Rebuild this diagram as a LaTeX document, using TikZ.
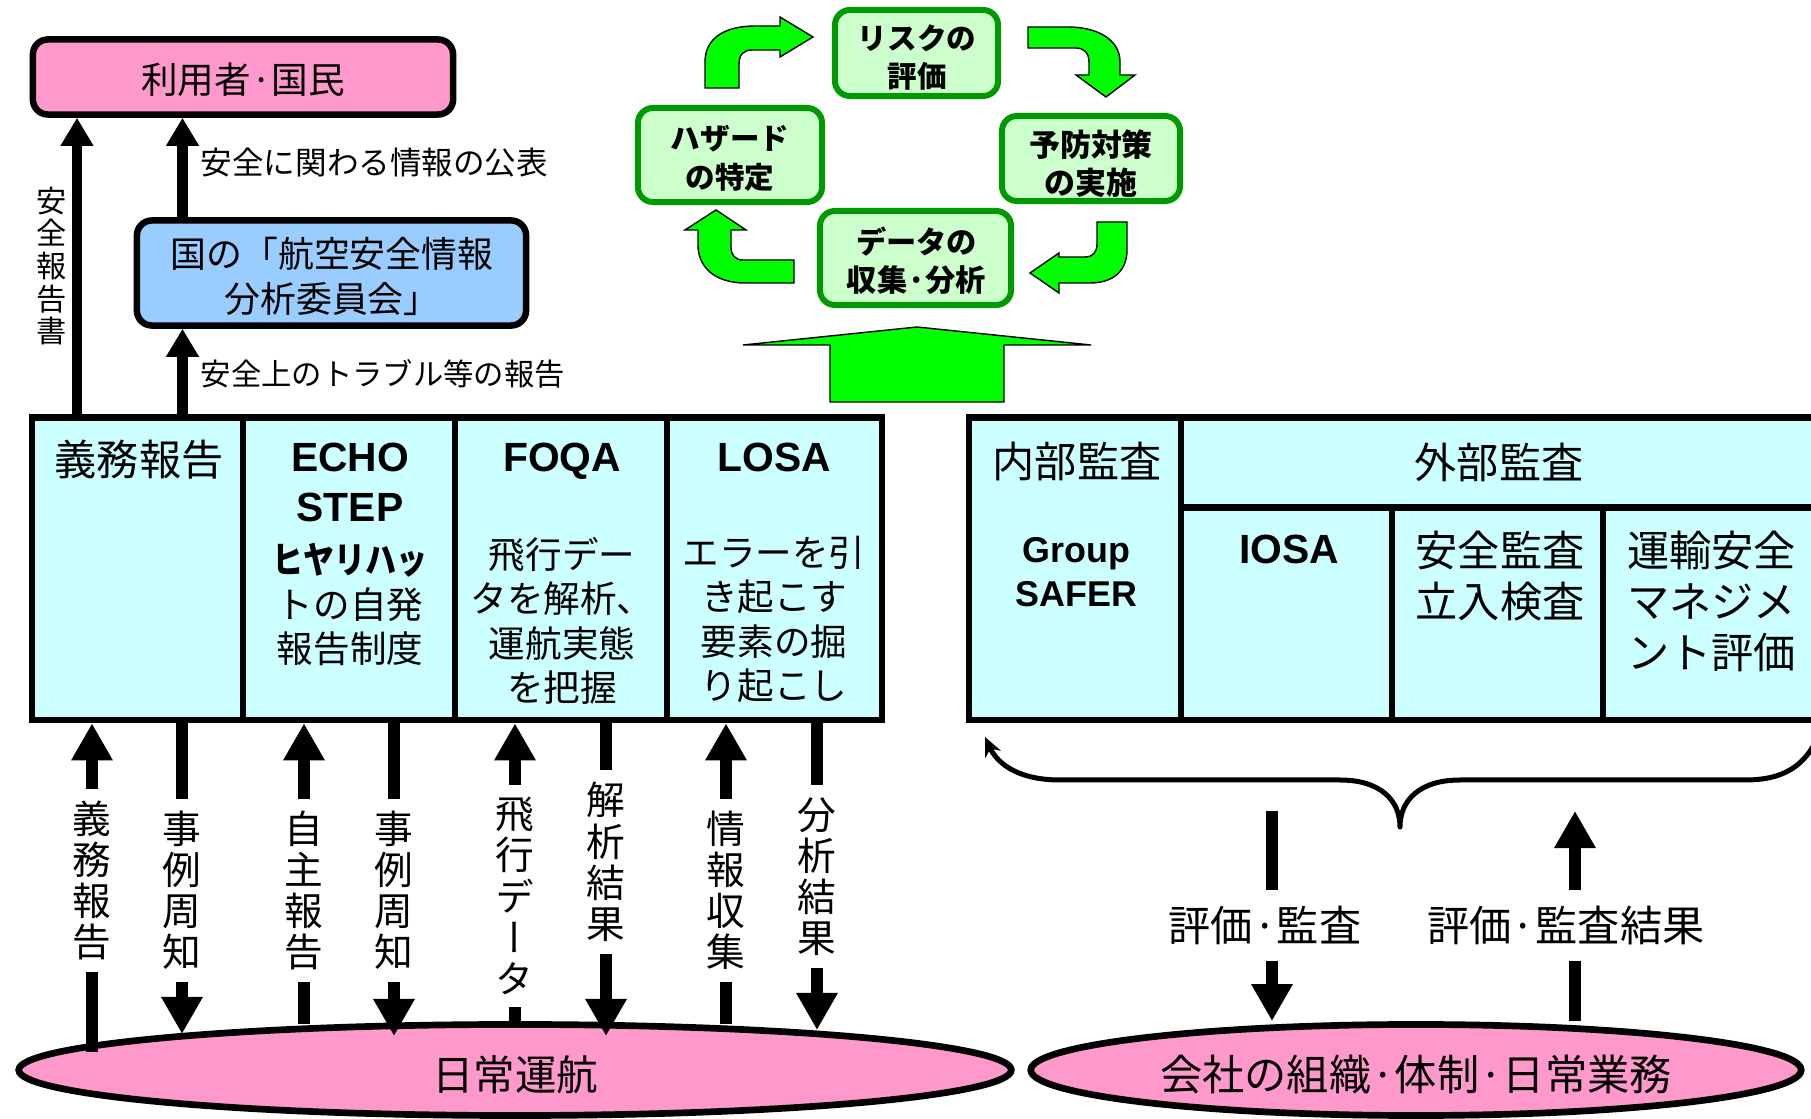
\documentclass[tikz,border=0pt]{standalone}
\usepackage{fontspec}
\setmainfont{Noto Sans CJK JP}
\newfontfamily\vertjp{Noto Sans CJK JP}[RawFeature=+vert]
\newfontfamily\latinbf{Liberation Sans}
\usetikzlibrary{positioning}
\usetikzlibrary{arrows.meta,shapes.geometric}
\definecolor{userpink}{HTML}{FF99CC}
\definecolor{boardblue}{HTML}{99CCFF}
\definecolor{cellcyan}{HTML}{CCFFFF}
\definecolor{cyclefill}{HTML}{CCFFCC}
\definecolor{cycleline}{HTML}{009900}
\definecolor{bendgreen}{HTML}{00FF00}
\tikzset{%
  topbox/.style = {rectangle,rounded corners=0.15cm,draw,line width=1.85pt,inner sep=0pt},
  boxcell/.style = {rectangle,draw,line width=1.85pt,fill=cellcyan,inner sep=0pt},
  cyclebox/.style = {rectangle,rounded corners=0.15cm,draw=cycleline,line width=1.7pt,
        fill=cyclefill,inner sep=0pt},
  cycletext/.style = {inner sep=0pt,align=center},
  opsell/.style = {ellipse,draw,line width=1.9pt,fill=userpink,inner sep=0pt},
  pubarrow/.style = {-{Triangle[width=0.31cm,length=0.28cm]},line width=0.1cm},
  oparrow/.style = {-{Triangle[width=0.39cm,length=0.37cm]},line width=0.125cm},
  cyclearrow/.style = {fill=bendgreen,draw=black,line width=0.4pt},
  auditbrace/.style = {{Stealth[length=0.19cm,width=0.17cm]}-,line width=0.05cm,
        line cap=round,line join=round},
  vlabel/.style = {fill=white,inner xsep=0.04cm,inner ysep=0.12cm,align=center,
        font=\vertjp\fontsize{11pt}{11.7pt}\selectfont},
  evaltext/.style = {fill=white,inner xsep=0.05cm,inner ysep=0.16cm,
        font=\fontsize{12pt}{14pt}\selectfont},
  pubtext/.style = {inner sep=0pt,font=\fontsize{8.8pt}{10pt}\selectfont},
  celltitle/.style = {inner sep=0pt,font=\fontsize{12pt}{14pt}\selectfont},
  cellbody/.style = {inner sep=0pt,align=center,font=\fontsize{10.4pt}{12.65pt}\selectfont},
  rightbody/.style = {inner sep=0pt,align=center,font=\fontsize{12pt}{14.5pt}\selectfont},
  latinhead/.style = {inner sep=0pt,align=center,font=\latinbf\bfseries\fontsize{11.6pt}{14.2pt}\selectfont},
  latinsub/.style = {inner sep=0pt,align=center,font=\latinbf\bfseries\fontsize{10.2pt}{12.5pt}\selectfont}
}
\begin{document}
\begin{tikzpicture}[x=0.01cm,y=-0.01cm]
\useasboundingbox (0,0) rectangle (1811,1119);
\clip (0,0) rectangle (1811,1119);

% public side
\node[topbox,fill=userpink,minimum width=4.20cm,minimum height=0.75cm] (user) at (243,77) {};
\node[topbox,fill=boardblue,minimum width=3.89cm,minimum height=1.05cm] (board) at (331.5,273) {};
\node[cycletext,font=\fontsize{10.4pt}{12pt}\selectfont] (usert) at (243,79.3) {利用者·国民};
\node[cycletext,font=\fontsize{10.2pt}{12.8pt}\selectfont] (boardt) at (332,276) {国の「航空安全情報\\分析委員会」};

% reporting schemes
\node[boxcell,minimum width=2.11cm,minimum height=3.025cm] (gimu) at (137.5,568.75) {};
\node[boxcell,minimum width=2.12cm,minimum height=3.025cm] (echo) at (349,568.75) {};
\node[boxcell,minimum width=2.12cm,minimum height=3.025cm] (foqa) at (561,568.75) {};
\node[boxcell,minimum width=2.15cm,minimum height=3.025cm] (losa) at (774.5,568.75) {};
\node[celltitle] (gimut) at (139,460) {義務報告};
\node[latinhead] (echot) at (350,482.5) {ECHO\\STEP};
\node[cellbody] (echob) at (350,604.5) {\textbf{\addfontfeature{FakeStretch=0.85}ヒヤリハッ}\\トの自発\\報告制度};
\node[latinhead] (foqat) at (562,461.5) {FOQA};
\node[cellbody] (foqab) at (562,621) {飛行デー\\タを解析、\\運航実態\\を把握};
\node[latinhead] (losat) at (774,457.5) {LOSA};
\node[cellbody] (losab) at (774,619.5) {エラーを引\\き起こす\\要素の掘\\り起こし};

% audits
\node[boxcell,minimum width=2.12cm,minimum height=3.025cm] (naibu) at (1075,568.75) {};
\node[boxcell,minimum width=6.37cm,minimum height=0.90cm] (gaibu) at (1499.5,462.5) {};
\node[boxcell,minimum width=2.11cm,minimum height=2.125cm] (iosa) at (1286.5,613.75) {};
\node[boxcell,minimum width=2.11cm,minimum height=2.125cm] (kansa) at (1497.5,613.75) {};
\node[boxcell,minimum width=2.15cm,minimum height=2.125cm] (unyu) at (1710.5,613.75) {};
\node[celltitle] (naibut) at (1077,462) {内部監査};
\node[latinsub] (safer) at (1076.5,572.5) {Group\\SAFER};
\node[celltitle] (gaibut) at (1499,462) {外部監査};
\node[latinhead] (iosat) at (1289,549) {IOSA};
\node[rightbody] (kansat) at (1500,576.5) {安全監査\\立入検査};
\node[rightbody] (unyut) at (1711.5,601.5) {運輸安全\\マネジメ\\ント評価};

% safety cycle
\node[cyclebox,minimum width=1.63cm,minimum height=0.86cm] (risk) at (916.5,53) {};
\node[cyclebox,minimum width=1.84cm,minimum height=0.94cm] (hazard) at (730,155) {};
\node[cyclebox,minimum width=1.78cm,minimum height=0.85cm] (prevent) at (1091,158.5) {};
\node[cyclebox,minimum width=1.91cm,minimum height=0.94cm] (data) at (915.5,258) {};
\node[cycletext,font=\bfseries\fontsize{8.4pt}{10.8pt}\selectfont] (riskt) at (917,57.4) {リスクの\\評価};
\node[cycletext,font=\bfseries\fontsize{8.4pt}{11.1pt}\selectfont] (hazardt) at (730,158.5) {ハザード\\の特定};
\node[cycletext,font=\bfseries\fontsize{8.8pt}{10.8pt}\selectfont] (preventt) at (1091,163.7) {予防対策\\の実施};
\node[cycletext,font=\bfseries\fontsize{8.6pt}{10.8pt}\selectfont] (datat) at (916.5,260.7) {データの\\収集·分析};
\draw[cyclearrow] (705,88) -- (705,62) .. controls (705,38) and (725,26) .. (755,26)
  -- (780,26) -- (780,17) -- (813,37) -- (780,57) -- (780,50) -- (752,50)
  .. controls (743,50) and (739,55) .. (739,65) -- (739,88) -- cycle;
\draw[cyclearrow] (1028,27) -- (1068,27) .. controls (1098,27) and (1120,40) .. (1120,62)
  -- (1120,75) -- (1135,75) -- (1106,97) -- (1076,75) -- (1089,75) -- (1089,62)
  .. controls (1089,53) and (1084,48) .. (1076,48) -- (1028,48) -- cycle;
\draw[cyclearrow] (1097,222) -- (1127,222) -- (1127,250) .. controls (1127,272) and (1112,283) .. (1090,283)
  -- (1059,283) -- (1059,293) -- (1030,273) -- (1059,253) -- (1059,257) -- (1085,257)
  .. controls (1093,257) and (1097,252) .. (1097,244) -- cycle;
\draw[cyclearrow] (794,260) -- (794,283) -- (745,283) .. controls (716,283) and (698,268) .. (698,245)
  -- (698,230) -- (685,230) -- (716,210) -- (746,230) -- (731,230) -- (731,247)
  .. controls (731,255) and (735,260) .. (743,260) -- cycle;
\draw[cyclearrow] (830,402) -- (830,345) -- (743,345) -- (917,327) -- (1091,345)
  -- (1004,345) -- (1004,402) -- cycle;

% reports upward
\draw[pubarrow] (77,0 |- gimu.north) -- (77,0 |- user.south);
\draw[pubarrow] (182.5,0 |- gimu.north) -- (182.5,0 |- board.south);
\draw[pubarrow] (182.5,0 |- board.north) -- (182.5,0 |- user.south);
\node[pubtext,anchor=west,font=\fontsize{8.98pt}{10pt}\selectfont] (pubinfo) at (200,163) {安全に関わる情報の公表};
\node[pubtext,anchor=west,font=\fontsize{8.63pt}{10pt}\selectfont] (trouble) at (200,373.5) {安全上のトラブル等の報告};
\node[pubtext,align=center,font=\vertjp\fontsize{8.6pt}{9.3pt}\selectfont] (reportv) at (52,266) {安\\全\\報\\告\\書};

% daily operation and company
\node[opsell,minimum width=9.92cm,minimum height=0.91cm] (ops) at (515,1070) {};
\node[opsell,minimum width=7.70cm,minimum height=0.91cm] (comp) at (1416,1070) {};
\node[cycletext,font=\fontsize{11.8pt}{14pt}\selectfont] (opst) at (515,1074.6) {日常運航};
\node[cycletext,font=\fontsize{12pt}{14pt}\selectfont] (compt) at (1416,1074.6) {会社の組織·体制·日常業務};

\foreach \x/\tail/\vt/\ty in {92/1052/{義\\務\\報\\告}/880.5, 304/1024/{自\\主\\報\\告}/890.5,
    515/1022/{飛\\行\\デ\\ー\\タ}/896, 726/1024/{情\\報\\収\\集}/890.5}{
  \draw[oparrow] (\x,\tail) -- (\x,0 |- gimu.south);
  \node[vlabel] (up\x) at (\x,\ty) {\vt};
}
\foreach \x/\tip/\vt/\ty in {182/1034/{事\\例\\周\\知}/890.5, 394/1036/{事\\例\\周\\知}/890.5,
    606/1036/{解\\析\\結\\果}/862, 817/1030/{分\\析\\結\\果}/876.5}{
  \draw[oparrow] (\x,0 |- gimu.south) -- (\x,\tip);
  \node[vlabel] (dn\x) at (\x,\ty) {\vt};
}

% audit loop
\draw[auditbrace] (985,737) .. controls (998,765) and (1020,780) .. (1060,780) -- (1340,780)
  .. controls (1380,780) and (1400,800) .. (1400,827)
  .. controls (1400,800) and (1420,780) .. (1460,780) -- (1745,780)
  .. controls (1785,780) and (1805,765) .. (1818,737);
\coordinate (evaltop) at (1272,811);
\coordinate (restop) at (1575,811);
\draw[oparrow] (evaltop) -- (1272,0 |- comp.north);
\draw[oparrow] (1575,0 |- comp.north) -- (restop);
\node[evaltext] (evalt) at (1265,925.5) {評価·監査};
\node[evaltext] (rest) at (1566,925.5) {評価·監査結果};
\end{tikzpicture}
\end{document}
